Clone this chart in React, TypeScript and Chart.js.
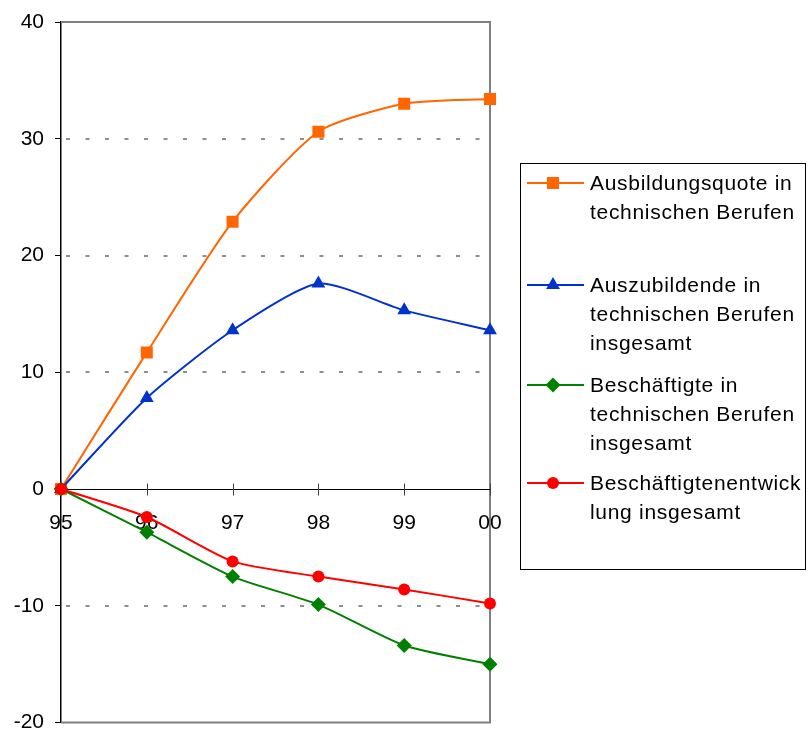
import React, { useEffect, useRef } from 'react';
import { Chart, registerables } from 'chart.js';

Chart.register(...registerables);

// ---- data ----
const years = ['95', '96', '97', '98', '99', '00'];
const ausbildungsquote = [0, 11.7, 22.9, 30.6, 33.0, 33.4];
const auszubildende = [0, 7.8, 13.6, 17.6, 15.3, 13.6];
const beschaeftigteTechnisch = [0, -3.7, -7.5, -9.9, -13.4, -15.0];
const beschaeftigteGesamt = [0, -2.4, -6.2, -7.5, -8.6, -9.8];

const seriesLabels = [
  ['Ausbildungsquote in', 'technischen Berufen'],
  ['Auszubildende in', 'technischen Berufen', 'insgesamt'],
  ['Beschäftigte in', 'technischen Berufen', 'insgesamt'],
  ['Beschäftigtenentwick', 'lung insgesamt'],
];

const yMin = -20;
const yMax = 40;
const yStep = 10;

// ---- styles ----
const FONT = "'Liberation Sans', Arial, sans-serif";
const colors = ['#FF6600', '#0033CC', '#008000', '#FF0000'];
const pointStyles = ['rect', 'triangle', 'rectRot', 'circle'];
const pointRadii = [8.5, 8, 7.5, 6];

function drawMarker(ctx: CanvasRenderingContext2D, style: string, x: number, y: number, r: number, color: string) {
  ctx.save();
  ctx.fillStyle = color;
  ctx.beginPath();
  if (style === 'rect') {
    const s = r * Math.SQRT1_2;
    ctx.rect(x - s, y - s, 2 * s, 2 * s);
  } else if (style === 'triangle') {
    ctx.moveTo(x, y - r);
    ctx.lineTo(x + r * Math.sin(Math.PI / 3), y + r / 2);
    ctx.lineTo(x - r * Math.sin(Math.PI / 3), y + r / 2);
    ctx.closePath();
  } else if (style === 'rectRot') {
    ctx.moveTo(x, y - r);
    ctx.lineTo(x + r, y);
    ctx.lineTo(x, y + r);
    ctx.lineTo(x - r, y);
    ctx.closePath();
  } else {
    ctx.arc(x, y, r, 0, Math.PI * 2);
  }
  ctx.fill();
  ctx.restore();
}

const framePlugin = {
  id: 'frame',
  beforeDatasetsDraw(chart: any) {
    const { ctx, chartArea: a, scales } = chart;
    const ys = scales.y;
    const xs = scales.x;
    ctx.save();
    // dashed horizontal grid lines
    ctx.strokeStyle = '#6a6a6a';
    ctx.lineWidth = 1.5;
    ctx.setLineDash([4, 15.5]);
    ys.ticks.forEach((t: any) => {
      if (t.value === yMin || t.value === yMax || t.value === 0) return;
      const py = Math.round(ys.getPixelForValue(t.value));
      ctx.beginPath();
      ctx.moveTo(a.left + 5, py);
      ctx.lineTo(a.right, py);
      ctx.stroke();
    });
    ctx.setLineDash([]);
    // gray frame (top, right, bottom)
    ctx.strokeStyle = '#808080';
    ctx.lineWidth = 2;
    ctx.beginPath();
    ctx.moveTo(a.left, a.top);
    ctx.lineTo(a.right, a.top);
    ctx.lineTo(a.right, a.bottom);
    ctx.lineTo(a.left, a.bottom);
    ctx.stroke();
    // zero line with crossing ticks
    const y0 = Math.round(ys.getPixelForValue(0)) + 0.5;
    ctx.strokeStyle = '#000';
    ctx.lineWidth = 1;
    ctx.beginPath();
    ctx.moveTo(a.left, y0);
    ctx.lineTo(a.right, y0);
    ctx.stroke();
    ctx.strokeStyle = '#404040';
    xs.ticks.forEach((_t: any, i: number) => {
      const px = Math.round(xs.getPixelForTick(i)) + 0.5;
      ctx.beginPath();
      ctx.moveTo(px, y0 - 6);
      ctx.lineTo(px, y0 + 6);
      ctx.stroke();
    });
    ctx.restore();
  },
};

const legendPlugin = {
  id: 'customLegend',
  afterDraw(chart: any) {
    const { ctx } = chart;
    ctx.save();
    ctx.strokeStyle = '#000';
    ctx.lineWidth = 1;
    ctx.strokeRect(520.5, 163.5, 285, 406);
    const firstLineY = [183, 285, 385, 483];
    const lineH = 29;
    ctx.font = `21px ${FONT}`;
    (ctx as any).letterSpacing = '0.7px';
    ctx.textBaseline = 'middle';
    ctx.textAlign = 'left';
    seriesLabels.forEach((lines, i) => {
      const cy = firstLineY[i];
      ctx.strokeStyle = colors[i];
      ctx.lineWidth = 2;
      ctx.beginPath();
      ctx.moveTo(527, cy);
      ctx.lineTo(584, cy);
      ctx.stroke();
      drawMarker(ctx, pointStyles[i], 553, cy, pointRadii[i], colors[i]);
      ctx.fillStyle = '#000';
      lines.forEach((ln, k) => {
        ctx.fillText(ln, 590, cy + k * lineH + 1);
      });
    });
    ctx.restore();
  },
};

export default function App() {
  const ref = useRef<HTMLCanvasElement | null>(null);

  useEffect(() => {
    document.body.style.margin = '0';
    const canvas = ref.current;
    if (!canvas) return;
    const series = [ausbildungsquote, auszubildende, beschaeftigteTechnisch, beschaeftigteGesamt];
    const chart = new Chart(canvas, {
      type: 'line',
      data: {
        labels: years,
        datasets: series.map((d, i) => ({
          label: seriesLabels[i].join(' '),
          data: d,
          borderColor: colors[i],
          backgroundColor: colors[i],
          borderWidth: 2,
          pointStyle: pointStyles[i] as any,
          pointRadius: pointRadii[i],
          pointBorderWidth: 0,
          pointHoverRadius: pointRadii[i],
          tension: 0.22,
          fill: false,
          order: 4 - i,
        })),
      },
      options: {
        responsive: false,
        animation: false,
        devicePixelRatio: 1,
        layout: { padding: { left: 0, top: 22, right: 318, bottom: 8 } },
        plugins: {
          legend: { display: false },
          tooltip: { enabled: false },
        },
        scales: {
          x: {
            type: 'category',
            position: { y: 0 } as any,
            offset: false,
            grid: { display: false },
            border: { display: false },
            ticks: {
              font: { family: FONT, size: 21 },
              color: '#000',
              padding: 14,
              maxRotation: 0,
              autoSkip: false,
            },
          },
          y: {
            min: yMin,
            max: yMax,
            grid: {
              display: true,
              drawOnChartArea: false,
              drawTicks: true,
              tickLength: 6,
              tickColor: '#000',
            },
            border: { display: true, color: '#000', width: 1.5 },
            ticks: {
              stepSize: yStep,
              font: { family: FONT, size: 21 },
              color: '#000',
              padding: 11,
            },
            afterFit(scale: any) {
              scale.width = 61;
              scale.paddingTop = 0;
              scale.paddingBottom = 0;
            },
          },
        },
      },
      plugins: [framePlugin, legendPlugin],
    });
    return () => chart.destroy();
  }, []);

  return (
    <div style={{ width: 808, height: 731, position: 'relative' }}>
      <canvas ref={ref} width={808} height={731} style={{ display: 'block' }} />
    </div>
  );
}
